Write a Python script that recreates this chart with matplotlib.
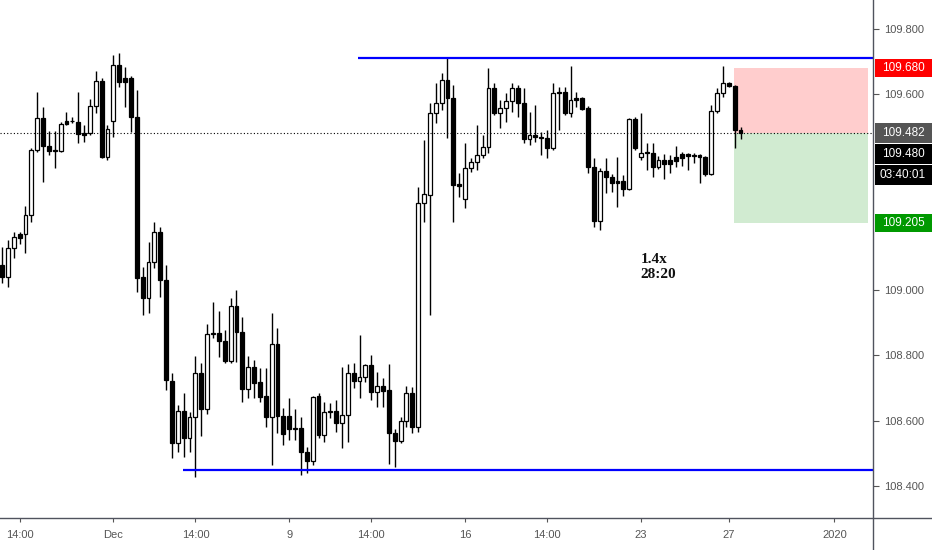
import numpy as np
import matplotlib.pyplot as plt
import matplotlib.transforms as mtransforms
from matplotlib.patches import Rectangle

# USDJPY 4h candles
opens = [109.077, 109.040, 109.129, 109.172, 109.172, 109.230, 109.429, 109.527, 109.442, 109.426,
         109.426, 109.518, 109.518, 109.515, 109.481, 109.481, 109.564, 109.641, 109.408, 109.518,
         109.690, 109.650, 109.650, 109.530, 109.040, 108.976, 109.086, 109.178, 109.031, 108.722,
         108.532, 108.630, 108.547, 108.611, 108.746, 108.636, 108.866, 108.869, 108.844, 108.783,
         108.951, 108.872, 108.697, 108.764, 108.718, 108.676, 108.611, 108.835, 108.614, 108.614,
         108.575, 108.578, 108.504, 108.476, 108.676, 108.556, 108.627, 108.630, 108.593, 108.617,
         108.746, 108.722, 108.734, 108.771, 108.688, 108.706, 108.694, 108.562, 108.538, 108.599,
         108.685, 108.581, 109.267, 109.291, 109.543, 109.573, 109.644, 109.589, 109.325, 109.279,
         109.374, 109.393, 109.414, 109.438, 109.619, 109.543, 109.558, 109.579, 109.619, 109.573,
         109.463, 109.475, 109.469, 109.466, 109.435, 109.607, 109.607, 109.543, 109.589, 109.589,
         109.558, 109.377, 109.212, 109.365, 109.347, 109.334, 109.334, 109.310, 109.524, 109.408,
         109.423, 109.420, 109.377, 109.399, 109.399, 109.408, 109.417, 109.417, 109.411, 109.414,
         109.408, 109.356, 109.549, 109.604, 109.635, 109.625, 109.491]
highs = [109.132, 109.154, 109.178, 109.178, 109.258, 109.435, 109.607, 109.561, 109.488, 109.488,
         109.515, 109.546, 109.530, 109.607, 109.506, 109.586, 109.671, 109.650, 109.506, 109.720,
         109.726, 109.684, 109.656, 109.613, 109.071, 109.147, 109.209, 109.193, 109.077, 108.746,
         108.648, 108.685, 108.627, 108.798, 108.777, 108.896, 108.964, 108.936, 108.878, 108.976,
         109.000, 108.918, 108.798, 108.786, 108.761, 108.761, 108.930, 108.884, 108.639, 108.669,
         108.636, 108.611, 108.519, 108.676, 108.685, 108.657, 108.654, 108.663, 108.764, 108.774,
         108.777, 108.863, 108.774, 108.801, 108.749, 108.731, 108.774, 108.575, 108.611, 108.706,
         108.703, 109.316, 109.460, 109.573, 109.635, 109.665, 109.711, 109.628, 109.359, 109.451,
         109.405, 109.506, 109.475, 109.681, 109.635, 109.582, 109.604, 109.635, 109.628, 109.619,
         109.546, 109.567, 109.484, 109.491, 109.635, 109.622, 109.622, 109.687, 109.607, 109.592,
         109.564, 109.405, 109.374, 109.405, 109.356, 109.408, 109.353, 109.527, 109.530, 109.543,
         109.451, 109.451, 109.411, 109.417, 109.414, 109.442, 109.423, 109.420, 109.420, 109.417,
         109.411, 109.567, 109.619, 109.687, 109.638, 109.628, 109.500]
lows = [109.022, 109.010, 109.098, 109.141, 109.114, 109.209, 109.423, 109.331, 109.414, 109.374,
        109.423, 109.506, 109.512, 109.451, 109.454, 109.475, 109.543, 109.405, 109.399, 109.469,
        109.622, 109.561, 109.484, 108.994, 108.924, 108.930, 109.068, 108.979, 108.694, 108.486,
        108.504, 108.489, 108.504, 108.427, 108.553, 108.620, 108.853, 108.795, 108.777, 108.777,
        108.780, 108.657, 108.669, 108.669, 108.657, 108.581, 108.464, 108.562, 108.526, 108.541,
        108.541, 108.434, 108.440, 108.464, 108.547, 108.535, 108.608, 108.565, 108.516, 108.535,
        108.700, 108.669, 108.719, 108.663, 108.642, 108.642, 108.467, 108.458, 108.532, 108.581,
        108.562, 108.565, 109.209, 108.924, 109.512, 109.552, 109.466, 109.209, 109.285, 109.252,
        109.362, 109.368, 109.405, 109.420, 109.537, 109.497, 109.515, 109.546, 109.530, 109.451,
        109.445, 109.454, 109.414, 109.405, 109.429, 109.491, 109.537, 109.530, 109.561, 109.552,
        109.359, 109.193, 109.184, 109.298, 109.301, 109.255, 109.288, 109.307, 109.429, 109.399,
        109.368, 109.347, 109.371, 109.340, 109.359, 109.377, 109.380, 109.368, 109.389, 109.328,
        109.350, 109.353, 109.543, 109.592, 109.622, 109.435, 109.463]
closes = [109.040, 109.129, 109.163, 109.160, 109.230, 109.429, 109.527, 109.442, 109.426, 109.429,
          109.509, 109.509, 109.517, 109.478, 109.475, 109.564, 109.641, 109.408, 109.494, 109.690,
          109.638, 109.638, 109.530, 109.037, 108.976, 109.086, 109.178, 109.031, 108.725, 108.532,
          108.630, 108.547, 108.611, 108.746, 108.636, 108.866, 108.869, 108.844, 108.783, 108.951,
          108.872, 108.697, 108.764, 108.715, 108.673, 108.611, 108.835, 108.614, 108.559, 108.575,
          108.578, 108.504, 108.476, 108.673, 108.556, 108.627, 108.630, 108.593, 108.617, 108.746,
          108.722, 108.734, 108.771, 108.688, 108.706, 108.691, 108.562, 108.538, 108.599, 108.685,
          108.581, 109.267, 109.294, 109.543, 109.573, 109.644, 109.589, 109.322, 109.319, 109.374,
          109.393, 109.414, 109.438, 109.619, 109.543, 109.558, 109.579, 109.619, 109.573, 109.463,
          109.475, 109.469, 109.466, 109.435, 109.604, 109.604, 109.543, 109.582, 109.582, 109.555,
          109.377, 109.212, 109.365, 109.347, 109.328, 109.328, 109.310, 109.524, 109.435, 109.420,
          109.420, 109.377, 109.399, 109.386, 109.386, 109.396, 109.405, 109.411, 109.413, 109.408,
          109.356, 109.549, 109.604, 109.635, 109.625, 109.491, 109.480]

# time axis (candle index -> label)
tick_pos = [3, 19, 33, 49, 63, 79, 93, 109, 124, 142]
tick_text = ['14:00', 'Dec', '14:00', '9', '14:00', '16', '14:00', '23', '27', '2020']
price_ticks = [108.4, 108.6, 108.8, 109.0, 109.6, 109.8]

# drawn levels
resistance, res_start = 109.710, 60.8
support, sup_start = 108.449, 30.8

# short position tool
stop, entry, target = 109.680, 109.482, 109.205
last_price = 109.480
pos_start, pos_end = 124.9, 147.8
ratio_text = '1.4x\n28:20'

W, H = 932, 550
fig = plt.figure(figsize=(W / 100, H / 100), dpi=100)
ax = fig.add_axes([0, 32 / H, 873 / W, 518 / H])
ax.set_xlim(-0.34, 148.6)
ax.set_ylim(108.302, 109.889)

# position boxes (behind candles)
ax.fill_between([pos_start, pos_end], entry, stop, color='#ffcdcd', lw=0, zorder=1)
ax.fill_between([pos_start, pos_end], target, entry, color='#d1ebd1', lw=0, zorder=1)

# candles
o = np.array(opens)
c = np.array(closes)
idx = np.arange(len(o))
up = c >= o
ax.vlines(idx, lows, highs, color='black', lw=1.0, zorder=2)
ax.bar(idx, np.abs(c - o), bottom=np.minimum(o, c), width=0.66,
       color=np.where(up, 'white', 'black'), edgecolor='black', lw=0.9, zorder=3)

# levels
ax.hlines(resistance, res_start, 160, color='#0000ff', lw=1.6, zorder=4)
ax.hlines(support, sup_start, 160, color='#0000ff', lw=1.6, zorder=4)
ax.axhline(entry, color='black', lw=0.8, ls=(0, (1, 2)), zorder=4)

ax.text(108.9, 109.071, ratio_text, family='Liberation Serif', weight='bold',
        fontsize=11, va='center', ha='left', color='#111111')

# axes styling
for s in ax.spines.values():
    s.set_visible(False)
ax.yaxis.tick_right()
ax.set_yticks(price_ticks)
ax.set_yticklabels(['%.3f' % p for p in price_ticks])
ax.set_xticks(tick_pos)
ax.set_xticklabels(tick_text)
ax.tick_params(axis='y', length=4, pad=4, color='#555555', labelcolor='#555555',
               labelsize=8)
ax.tick_params(axis='x', length=3, pad=6, color='#555555', labelcolor='#555555',
               labelsize=8)
for lab in ax.get_xticklabels() + ax.get_yticklabels():
    lab.set_family('Liberation Sans')

fig.add_artist(plt.Line2D([0, 1], [32 / H, 32 / H], color='#50535e', lw=1))
fig.add_artist(plt.Line2D([873 / W, 873 / W], [0, 1], color='#50535e', lw=1))

# price labels on the right scale
tr = mtransforms.blended_transform_factory(fig.transFigure, ax.transData)
px = 0.0030637  # price per pixel
labels = [
    (stop, 18, '#ff0000', '%.3f' % stop),
    (entry, 20, '#555555', '%.3f' % entry),
    (last_price - 21 * px, 20, '#000000', '%.3f' % last_price),
    (last_price - 42 * px, 20, '#000000', '03:40:01'),
    (target, 18, '#009900', '%.3f' % target),
]
for y, h, col, txt in labels:
    ax.add_patch(Rectangle((875 / W, y - h / 2 * px), 57 / W, h * px, transform=tr,
                           facecolor=col, edgecolor='none', clip_on=False, zorder=5))
    ax.text(903 / W, y, txt, transform=tr, color='white', fontsize=8.5,
            family='Liberation Sans', ha='center', va='center', zorder=6, clip_on=False)

fig.savefig('out.png', dpi=100)
